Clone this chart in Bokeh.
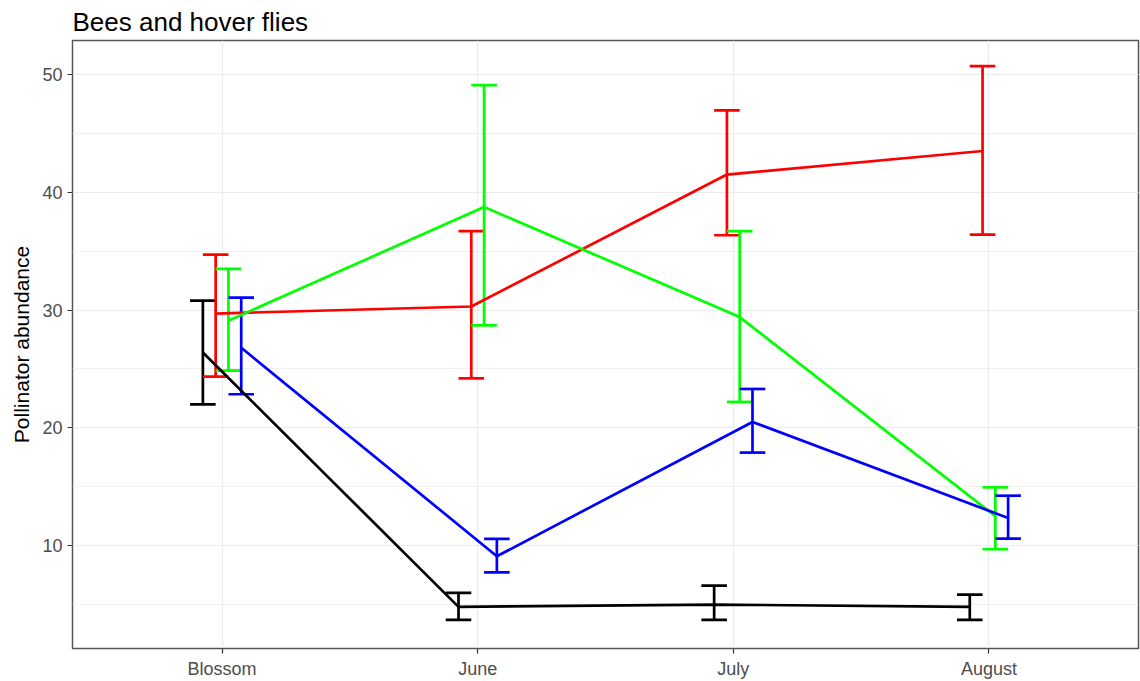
from bokeh.plotting import figure
from bokeh.models import ColumnDataSource, FactorRange, Range1d, SingleIntervalTicker
from bokeh.transform import dodge
from bokeh.embed import file_html
from bokeh.resources import INLINE

# Sampling periods
periods = ["Blossom", "June", "July", "August"]

# Mean pollinator abundance with lower / upper error limits per group
black_mean = [26.4, 4.8, 5.0, 4.8]
black_lo = [22.0, 3.7, 3.7, 3.7]
black_hi = [30.8, 6.0, 6.6, 5.85]

red_mean = [29.7, 30.3, 41.5, 43.5]
red_lo = [24.35, 24.2, 36.35, 36.4]
red_hi = [34.7, 36.7, 46.95, 50.7]

green_mean = [29.1, 38.75, 29.4, 12.5]
green_lo = [24.85, 28.7, 22.2, 9.7]
green_hi = [33.5, 49.1, 36.7, 14.95]

blue_mean = [26.8, 9.1, 20.5, 12.35]
blue_lo = [22.85, 7.74, 17.9, 10.6]
blue_hi = [31.05, 10.57, 23.3, 14.24]

groups = [
    ("#000000", black_mean, black_lo, black_hi, -0.075),
    ("#FF0000", red_mean, red_lo, red_hi, -0.025),
    ("#00FF00", green_mean, green_lo, green_hi, 0.025),
    ("#0000FF", blue_mean, blue_lo, blue_hi, 0.075),
]

FONT = "Liberation Sans"
GRID = "#EBEBEB"

p = figure(
    width=1140, height=681,
    x_range=FactorRange(*periods, range_padding=0.085,
                        range_padding_units="absolute"),
    y_range=Range1d(1.27, 52.88),
    output_backend="svg", toolbar_location=None,
    min_border_left=72, min_border_right=2,
    min_border_top=40, min_border_bottom=32,
)

# Title
p.title.text = "Bees and hover flies"
p.title.text_font = FONT
p.title.text_font_size = "26px"
p.title.text_font_style = "normal"
p.title.text_color = "#000000"
p.title.align = "left"
p.title.offset = 0
p.title.standoff = 8

# Panel
p.background_fill_color = "white"
p.border_fill_color = "white"
p.outline_line_color = "#555555"
p.outline_line_width = 1.5

# Grid
p.yaxis.ticker = SingleIntervalTicker(interval=10, num_minor_ticks=2)
p.xgrid.grid_line_color = GRID
p.xgrid.grid_line_width = 1.2
p.ygrid.grid_line_color = GRID
p.ygrid.grid_line_width = 1.2
p.ygrid.minor_grid_line_color = GRID
p.ygrid.minor_grid_line_width = 0.8

# Axes
for ax in (p.xaxis[0], p.yaxis[0]):
    ax.axis_line_color = None
    ax.major_tick_line_color = "#333333"
    ax.major_tick_line_width = 1.2
    ax.major_tick_out = 5
    ax.major_tick_in = 0
    ax.minor_tick_line_color = None
    ax.major_label_text_font = FONT
    ax.major_label_text_font_size = "18px"
    ax.major_label_text_color = "#4D4D4D"
    ax.major_label_standoff = 5

p.xaxis.group_text_font_size = "0px"
p.yaxis.axis_label = "Pollinator abundance"
p.yaxis.axis_label_text_font = FONT
p.yaxis.axis_label_text_font_size = "21px"
p.yaxis.axis_label_text_font_style = "normal"
p.yaxis.axis_label_text_color = "#000000"
p.yaxis.axis_label_standoff = 6

LW = 2.7
CAP = 0.05

# Error bars first, then the connecting lines on top
sources = []
for color, mean, lo, hi, off in groups:
    src = ColumnDataSource(dict(x=periods, mean=mean, lo=lo, hi=hi))
    sources.append((color, src, off))
    xr = p.x_range
    p.segment(x0=dodge("x", off, range=xr), x1=dodge("x", off, range=xr),
              y0="lo", y1="hi", source=src, line_color=color, line_width=LW)
    p.segment(x0=dodge("x", off - CAP, range=xr),
              x1=dodge("x", off + CAP, range=xr),
              y0="hi", y1="hi", source=src, line_color=color, line_width=LW)
    p.segment(x0=dodge("x", off - CAP, range=xr),
              x1=dodge("x", off + CAP, range=xr),
              y0="lo", y1="lo", source=src, line_color=color, line_width=LW)

for color, src, off in sources:
    p.line(x=dodge("x", off, range=p.x_range), y="mean", source=src,
           line_color=color, line_width=LW)

open("out.html", "w").write(file_html(p, INLINE))
